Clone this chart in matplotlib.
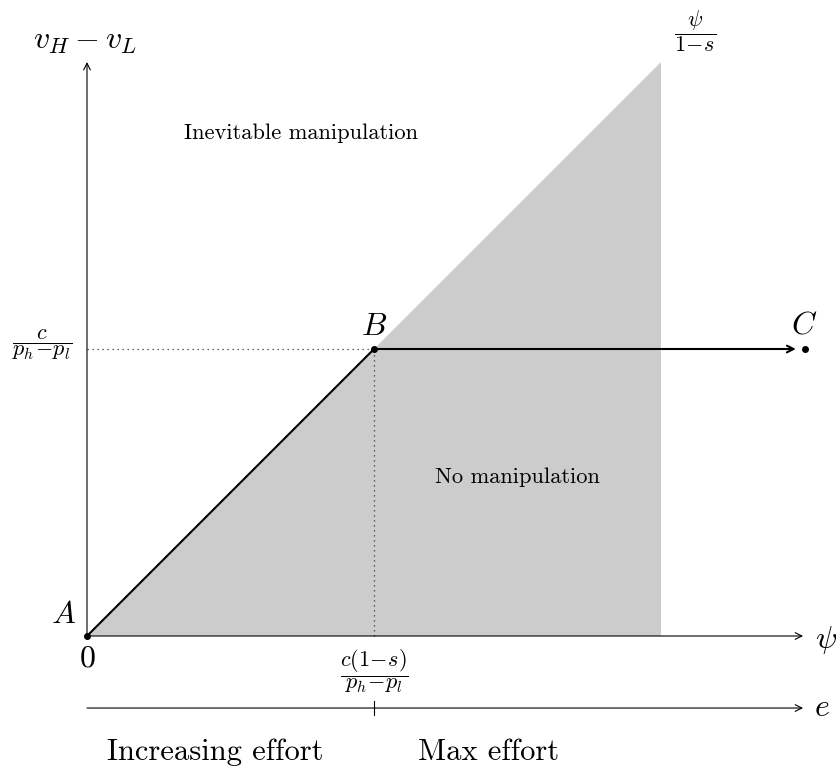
import numpy as np
import matplotlib
matplotlib.use("Agg")
import matplotlib.pyplot as plt

plt.rcParams['mathtext.fontset'] = 'cm'
plt.rcParams['font.family'] = 'serif'
plt.rcParams['font.serif'] = ['cmr10', 'DejaVu Serif']
plt.rcParams['axes.unicode_minus'] = False

# key points (units: psi* = 1, cutoff = 1)
pt_names = ['A', 'B', 'C']
pt_x = [0.0, 1.0, 2.5]
pt_y = [0.0, 1.0, 1.0]

# shaded region (no manipulation)
shade_x = [0.0, 2.0, 2.0]
shade_y = [0.0, 2.0, 0.0]

x_axis_end = 2.495
y_axis_end = 2.0
e_level = -0.251

fig = plt.figure(figsize=(8.37, 7.69), dpi=100)
ax = fig.add_axes([0, 0, 1, 1])
ax.set_xlim(-87/287, (837-87)/287)
ax.set_ylim(-133/287, (769-133)/287)
ax.axis('off')

ax.fill(shade_x, shade_y, color='#cccccc', lw=0, zorder=1)

# axes arrows
ap = dict(arrowstyle='->', lw=0.8, color='black', shrinkA=0, shrinkB=0, mutation_scale=12)
ax.annotate('', xy=(x_axis_end, 0), xytext=(0, 0), arrowprops=ap, zorder=3)
ax.annotate('', xy=(0, y_axis_end), xytext=(0, 0), arrowprops=ap, zorder=3)
ax.annotate('', xy=(x_axis_end, e_level), xytext=(0, e_level), arrowprops=ap, zorder=3)
ax.plot([pt_x[1], pt_x[1]], [e_level - 0.025, e_level + 0.025], color='black', lw=0.8)

# dotted guides
ax.plot([0, pt_x[1]], [pt_y[1], pt_y[1]], ls=(0, (1, 3)), color='#333333', lw=0.9, zorder=2)
ax.plot([pt_x[1], pt_x[1]], [0, pt_y[1]], ls=(0, (1, 3)), color='#333333', lw=0.9, zorder=2)

# path A -> B -> C
ax.plot(pt_x[:2], pt_y[:2], color='black', lw=1.5, zorder=4)
ax.annotate('', xy=(pt_x[2] - 0.03, pt_y[2]), xytext=(pt_x[1], pt_y[1]),
            arrowprops=dict(arrowstyle='->', lw=1.5, color='black', shrinkA=0, shrinkB=0,
                            mutation_scale=12), zorder=4)
ax.scatter(pt_x, pt_y, s=16, color='black', zorder=5)

# point labels
ax.text(pt_x[0] - 0.080, pt_y[0] + 0.071, '$A$', fontsize=23, ha='center', va='center')
ax.text(pt_x[1], pt_y[1] + 0.077, '$B$', fontsize=23, ha='center', va='center')
ax.text(pt_x[2], pt_y[2] + 0.08, '$C$', fontsize=23, ha='center', va='center')

# axis labels
ax.text(-0.007, 2.07, r'$v_H - v_L$', fontsize=23, ha='center', va='center')
ax.text(2.575, -0.014, r'$\psi$', fontsize=23, ha='center', va='center')
ax.text(2.561, e_level, r'$e$', fontsize=23, ha='center', va='center')
ax.text(0.0, -0.078, r'$0$', fontsize=23, ha='center', va='center')
ax.text(2.118, 2.108, r'$\dfrac{\psi}{1\!-\!s}$', fontsize=16, ha='center', va='center')
ax.text(-0.157, 1.014, r'$\dfrac{c}{p_h\!-\!p_l}$', fontsize=16, ha='center', va='center')
ax.text(1.0, -0.122, r'$\dfrac{c(1\!-\!s)}{p_h\!-\!p_l}$', fontsize=16, ha='center', va='center')

# region labels
ax.text(0.338, 1.7317, 'Inevitable manipulation', fontsize=16.2, ha='left', va='baseline')
ax.text(1.213, 0.533, 'No manipulation', fontsize=16.2, ha='left', va='baseline')
ax.text(0.0697, -0.432, 'Increasing effort', fontsize=22, ha='left', va='baseline')
ax.text(1.153, -0.432, 'Max effort', fontsize=22, ha='left', va='baseline')

fig.savefig('out.png', dpi=100)
